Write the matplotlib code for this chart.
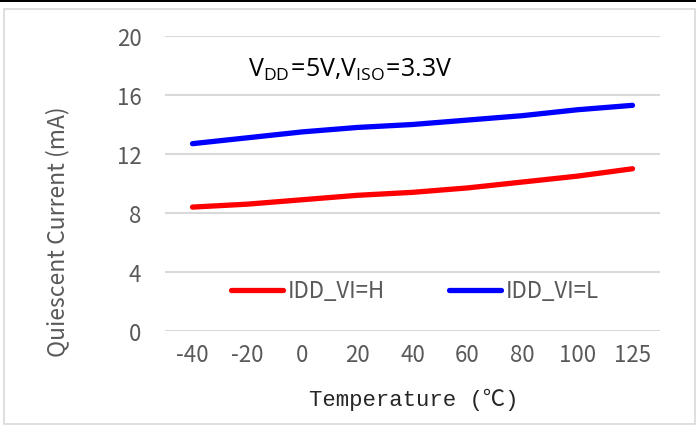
import matplotlib
matplotlib.use("Agg")
import matplotlib.pyplot as plt
from matplotlib.patches import Rectangle

temps = ["-40", "-20", "0", "20", "40", "60", "80", "100", "125"]
idd_h = [8.4, 8.6, 8.9, 9.2, 9.4, 9.7, 10.1, 10.5, 11.0]
idd_l = [12.7, 13.1, 13.5, 13.8, 14.0, 14.3, 14.6, 15.0, 15.3]
yticks = [0, 4, 8, 12, 16, 20]

GRAY = "#595959"
SANS = ["Noto Sans CJK SC", "DejaVu Sans"]

fig = plt.figure(figsize=(6.96, 4.27), dpi=100)
fig.patches.append(Rectangle((4/696, 1-425/427), 691/696, 415/427, transform=fig.transFigure,
                             fill=False, edgecolor="#d9d9d9", linewidth=1.2))
fig.patches.append(Rectangle((0, 1-3/427), 1, 3/427, transform=fig.transFigure,
                             facecolor="black", edgecolor="none"))

ax = fig.add_axes([165/696, 1-332/427, 495/696, 295/427])
x = list(range(len(temps)))
ax.plot(x, idd_h, color="#ff0000", lw=3.8, solid_capstyle="round", label="IDD_VI=H", zorder=3)
ax.plot(x, idd_l, color="#0000ff", lw=3.8, solid_capstyle="round", label="IDD_VI=L", zorder=3)

ax.set_xlim(-0.5, len(temps) - 0.5)
ax.set_ylim(0, 20)
ax.set_yticks(yticks)
ax.set_xticks(x)
ax.set_xticklabels(temps)
ax.grid(axis="y", color="#d9d9d9", linewidth=1.5)
ax.set_axisbelow(True)
for s in ax.spines.values():
    s.set_visible(False)
ax.tick_params(length=0, colors=GRAY, labelsize=16)
ax.tick_params(axis="y", pad=17)
ax.tick_params(axis="x", pad=9)
for lab in ax.get_xticklabels() + ax.get_yticklabels():
    lab.set_fontfamily(SANS)
    lab.set_fontweight("light")

ax.set_ylabel("Quiescent Current (mA)", color=GRAY, fontsize=16.5,
              fontfamily=SANS, fontweight="light", va="center")
ax.yaxis.set_label_coords(-0.218, 0.34)
ax.set_xlabel("Temperature (℃)", color="#262626", fontsize=16,
              fontfamily=["Liberation Mono", "Noto Sans CJK SC"], va="center")
ax.xaxis.set_label_coords(0.503, -0.23)

ax.text((248-165)/495, (332-70)/295,
        r"$\mathregular{V_{DD}\!=\!5V{,}V_{ISO}\!=\!3.3V}$",
        transform=ax.transAxes, fontsize=18, color="black",
        fontfamily=["Open Sans", "DejaVu Sans"], va="center", ha="left")

leg = ax.legend(loc="center", bbox_to_anchor=(0.505, 0.136), ncol=2, frameon=False,
                handlelength=2.35, handletextpad=0.2, columnspacing=2.9,
                prop=dict(family=SANS, weight="light", size=16))
for t in leg.get_texts():
    t.set_color(GRAY)

fig.savefig("out.png", dpi=100)
